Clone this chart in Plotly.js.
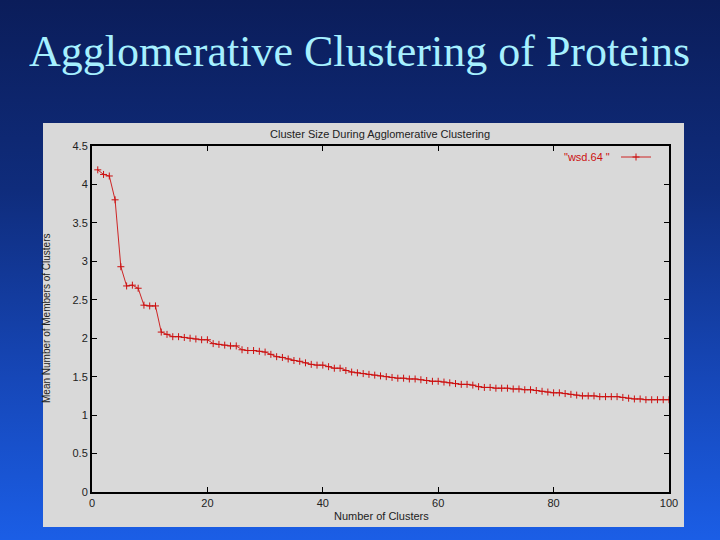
<!DOCTYPE html>
<html>
<head>
<meta charset="utf-8">
<script src="https://cdn.plot.ly/plotly-3.0.1.min.js"></script>
<style>
html,body{margin:0;padding:0;}
#chart{width:720px;height:540px;background:linear-gradient(to bottom,#0b1d5a 0%,#0f2c7c 35%,#1647b8 70%,#1b5ee6 100%);}
</style>
</head>
<body>
<div id="chart"></div>
<script>
const slideTitle = "Agglomerative Clustering of Proteins";
const chartTitle = "Cluster Size During Agglomerative Clustering";
const xLabel = "Number of Clusters";
const yLabel = "Mean Number of Members of Clusters";
const seriesName = '"wsd.64 "';

const numClusters = [];
for (let i = 1; i <= 100; i++) numClusters.push(i);

const meanSize = [
  4.19, 4.13, 4.11, 3.80, 2.93, 2.68, 2.69, 2.65, 2.43, 2.42,
  2.42, 2.08, 2.05, 2.02, 2.02, 2.01, 2.00, 1.99, 1.98, 1.98,
  1.93, 1.92, 1.91, 1.90, 1.90, 1.85, 1.84, 1.84, 1.83, 1.82,
  1.79, 1.76, 1.75, 1.73, 1.71, 1.70, 1.68, 1.66, 1.65, 1.65,
  1.63, 1.61, 1.61, 1.58, 1.56, 1.55, 1.54, 1.53, 1.52, 1.51,
  1.50, 1.49, 1.48, 1.48, 1.47, 1.47, 1.46, 1.45, 1.44, 1.44,
  1.43, 1.42, 1.41, 1.40, 1.40, 1.39, 1.37, 1.36, 1.36, 1.35,
  1.35, 1.35, 1.34, 1.34, 1.33, 1.33, 1.32, 1.31, 1.30, 1.29,
  1.29, 1.28, 1.27, 1.26, 1.25, 1.25, 1.25, 1.24, 1.24, 1.24,
  1.24, 1.23, 1.22, 1.21, 1.21, 1.20, 1.20, 1.20, 1.20, 1.20
];

const xTicks = [0, 20, 40, 60, 80, 100];
const yTicks = [0, 0.5, 1, 1.5, 2, 2.5, 3, 3.5, 4, 4.5];

const trace = {
  x: numClusters,
  y: meanSize,
  type: 'scatter',
  mode: 'lines+markers',
  name: ' ',
  line: {color: '#cc1010', width: 0.9},
  marker: {symbol: 'cross-thin-open', size: 5, line: {color: '#cc1010', width: 1}},
  showlegend: true
};

const plotW = 577, plotH = 346;
const L = 92, T = 146;
function px(x){ return (x - L) / plotW; }
function py(y){ return (T + plotH - y) / plotH; }

const axisFont = {family: 'Liberation Sans', size: 11, color: '#222'};

const layout = {
  width: 720, height: 540,
  paper_bgcolor: 'rgba(0,0,0,0)',
  plot_bgcolor: '#d9d9d9',
  margin: {l: L, r: 720 - L - plotW, t: T, b: 540 - T - plotH, pad: 0},
  xaxis: {
    range: [0, 100], tickvals: xTicks, ticktext: xTicks.map(String),
    ticks: 'inside', ticklen: 5, tickwidth: 1, tickcolor: '#000',
    showline: true, linecolor: '#000', linewidth: 2, mirror: 'ticks',
    showgrid: false, zeroline: false, tickfont: axisFont
  },
  yaxis: {
    range: [0, 4.5], tickvals: yTicks, ticktext: yTicks.map(String),
    ticks: 'inside', ticklen: 5, tickwidth: 1, tickcolor: '#000',
    showline: true, linecolor: '#000', linewidth: 2, mirror: 'ticks',
    showgrid: false, zeroline: false, tickfont: axisFont
  },
  showlegend: true,
  legend: {
    x: px(616), y: py(157), xanchor: 'left', yanchor: 'middle',
    bgcolor: 'rgba(0,0,0,0)', borderwidth: 0,
    font: {family: 'Liberation Sans', size: 11, color: '#cc1010'},
    itemwidth: 30
  },
  shapes: [{
    type: 'rect', xref: 'paper', yref: 'paper', layer: 'below',
    x0: px(43), x1: px(684), y0: py(527), y1: py(123),
    fillcolor: '#d9d9d9', line: {width: 0}
  }],
  annotations: [
    {text: slideTitle, xref: 'paper', yref: 'paper', x: px(359), y: py(52),
     xanchor: 'center', yanchor: 'middle', showarrow: false,
     font: {family: 'Liberation Serif', size: 44, color: '#a6f0ff'}},
    {text: chartTitle, xref: 'paper', yref: 'paper', x: px(380), y: py(134),
     xanchor: 'center', yanchor: 'middle', showarrow: false,
     font: {family: 'Liberation Sans', size: 11, color: '#222'}},
    {text: xLabel, xref: 'paper', yref: 'paper', x: px(381), y: py(516),
     xanchor: 'center', yanchor: 'middle', showarrow: false,
     font: {family: 'Liberation Sans', size: 11, color: '#222'}},
    {text: yLabel, xref: 'paper', yref: 'paper', x: px(46), y: py(318),
     xanchor: 'center', yanchor: 'middle', showarrow: false, textangle: -90,
     font: {family: 'Liberation Sans', size: 10, color: '#222'}},
    {text: seriesName, xref: 'paper', yref: 'paper', x: px(612), y: py(157),
     xanchor: 'right', yanchor: 'middle', showarrow: false,
     font: {family: 'Liberation Sans', size: 11, color: '#cc1010'}}
  ]
};

Plotly.newPlot('chart', [trace], layout, {displayModeBar: false, staticPlot: true});
</script>
</body>
</html>
